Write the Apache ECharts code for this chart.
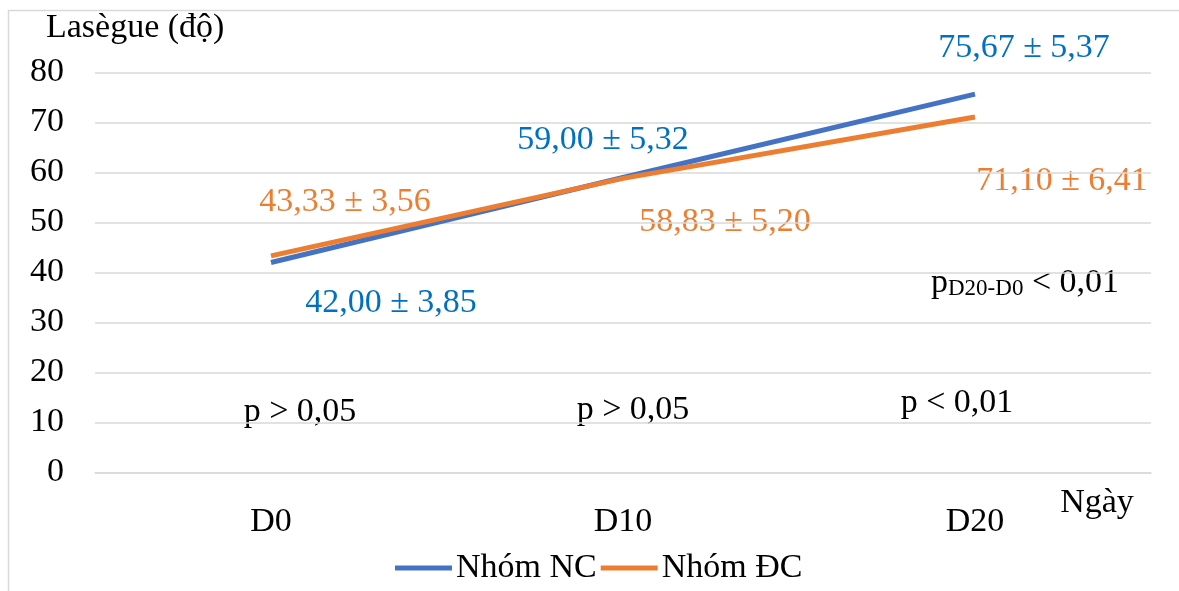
<!DOCTYPE html>
<html><head><meta charset="utf-8">
<script src="https://cdn.jsdelivr.net/npm/echarts@6/dist/echarts.min.js"></script>
<style>html,body{margin:0;padding:0;background:#fff}#c{width:1179px;height:591px}</style>
</head><body><div id="c"></div>
<script>
var categories = ['D0', 'D10', 'D20'];
var seriesNames = ['Nhóm NC', 'Nhóm ĐC'];
var meanNC = [42.00, 59.00, 75.67];
var sdNC = [3.85, 5.32, 5.37];
var meanDC = [43.33, 58.83, 71.10];
var sdDC = [3.56, 5.20, 6.41];
var pLabels = ['p > 0,05', 'p > 0,05', 'p < 0,01'];
var yTicks = [0, 10, 20, 30, 40, 50, 60, 70, 80];

var FONT = '"Liberation Serif","Times New Roman",serif';
var FS = 34;
var BLUE = '#4472C4', ORANGE = '#ED7D31', BLUE_TXT = '#0070C0';
function fmt(m, s) { return m.toFixed(2).replace('.', ',') + ' ± ' + s.toFixed(2).replace('.', ','); }

var chart = echarts.init(document.getElementById('c'));
function txt(x, y, text, color, align) {
  return { type: 'text', x: x, y: y, style: { text: text, fill: color, font: FS + 'px ' + FONT, align: align || 'center', verticalAlign: 'middle' } };
}
var graphics = [
  { type: 'rect', shape: { x: 8.5, y: 10.5, width: 1200, height: 600 }, style: { fill: 'none', stroke: '#d9d9d9', lineWidth: 1.5 }, z: -1 },
  txt(46, 28, 'Lasègue (độ)', '#000', 'left'),
  txt(1024, 48, fmt(meanNC[2], sdNC[2]), BLUE_TXT),
  txt(603, 140, fmt(meanNC[1], sdNC[1]), BLUE_TXT),
  txt(391, 303, fmt(meanNC[0], sdNC[0]), BLUE_TXT),
  txt(345, 202, fmt(meanDC[0], sdDC[0]), ORANGE),
  txt(725, 222, fmt(meanDC[1], sdDC[1]), ORANGE),
  txt(1062, 181, fmt(meanDC[2], sdDC[2]), ORANGE),
  txt(300, 412, pLabels[0], '#000'),
  txt(633, 410, pLabels[1], '#000'),
  txt(957, 403, pLabels[2], '#000'),
  txt(1097, 503, 'Ngày', '#000'),
  { type: 'text', x: 931, y: 283, style: { text: '{a|p}{b|D20-D0}{a| < 0,01}', align: 'left', verticalAlign: 'middle',
      rich: { a: { font: FS + 'px ' + FONT, fill: '#000' }, b: { font: '23px ' + FONT, fill: '#000', padding: [12, 0, 0, 0] } } } }
];

chart.setOption({
  animation: false,
  backgroundColor: '#fff',
  grid: { left: 95, right: 28, top: 72.5, bottom: 118.5 },
  legend: {
    data: seriesNames, left: 390, top: 546, itemWidth: 57, itemHeight: 5, itemGap: 4,
    icon: 'rect',
    textStyle: { fontFamily: FONT, fontSize: FS, color: '#000', padding: [0, 0, 0, -1] }
  },
  xAxis: {
    type: 'category', data: categories, boundaryGap: true,
    axisLine: { show: true, lineStyle: { color: '#d9d9d9', width: 1.5 } },
    axisTick: { show: false },
    axisLabel: { fontFamily: FONT, fontSize: FS, color: '#000', margin: 33 }
  },
  yAxis: {
    type: 'value', min: yTicks[0], max: yTicks[yTicks.length - 1], interval: 10,
    axisLine: { show: false }, axisTick: { show: false },
    axisLabel: { fontFamily: FONT, fontSize: FS, color: '#000', margin: 31 },
    splitLine: { lineStyle: { color: '#d9d9d9', width: 1.5 } }
  },
  series: [
    { name: seriesNames[0], type: 'line', data: meanNC, symbol: 'none', lineStyle: { color: BLUE, width: 5 }, itemStyle: { color: BLUE }, z: 3 },
    { name: seriesNames[1], type: 'line', data: meanDC, symbol: 'none', lineStyle: { color: ORANGE, width: 5 }, itemStyle: { color: ORANGE }, z: 4 }
  ],
  graphic: graphics
});
</script></body></html>
